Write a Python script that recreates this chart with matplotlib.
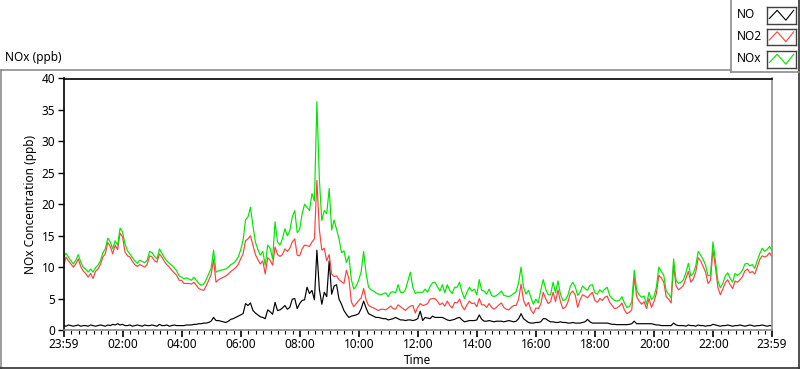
import numpy as np
import matplotlib
matplotlib.use("Agg")
import matplotlib.pyplot as plt
from matplotlib.lines import Line2D

plt.rcParams["font.family"] = ["Noto Sans", "DejaVu Sans"]
plt.rcParams["font.size"] = 8.5

W, H = 800, 369

# 5-minute readings from 23:59, one row per hour
no = [
    0.7, 0.6, 0.8, 0.7, 0.6, 0.7, 0.8, 0.6, 0.7, 0.7, 0.6, 0.8,
    0.7, 0.6, 0.7, 0.8, 0.7, 0.6, 0.8, 0.7, 0.9, 0.8, 1.0, 0.8,
    0.9, 0.7, 0.7, 0.8, 0.6, 0.7, 0.8, 0.7, 0.6, 0.8, 0.7, 0.7,
    0.8, 0.7, 0.6, 0.9, 0.7, 0.7, 0.8, 0.6, 0.7, 0.8, 0.7, 0.7,
    0.7, 0.7, 0.8, 0.8, 0.8, 0.9, 0.9, 1.0, 1.0, 1.1, 1.1, 1.2,
    1.4, 2.0, 1.5, 1.5, 1.4, 1.3, 1.2, 1.4, 1.7, 1.8, 2.0, 2.2,
    2.4, 2.6, 4.2, 3.9, 4.3, 3.1, 2.7, 2.4, 2.1, 2.0, 1.8, 3.2,
    2.9, 2.5, 4.4, 3.1, 3.2, 3.5, 3.9, 3.3, 3.6, 4.9, 5.0, 3.4,
    4.2, 4.7, 4.8, 6.8, 5.8, 6.3, 4.8, 12.7, 6.5, 4.1, 6.0, 5.3,
    11.0, 5.7, 7.0, 7.2, 4.9, 4.1, 3.1, 2.5, 2.0, 2.2, 2.3, 2.4,
    2.6, 3.4, 4.6, 3.5, 2.6, 2.4, 2.2, 2.0, 2.0, 1.9, 1.8, 1.8,
    1.6, 1.7, 1.8, 2.0, 1.8, 1.6, 1.6, 1.5, 1.6, 1.6, 1.5, 1.6,
    1.8, 3.0, 1.5, 2.0, 1.9, 1.8, 2.2, 2.0, 2.0, 2.0, 2.0, 1.8,
    1.6, 1.5, 1.6, 1.7, 1.9, 2.0, 1.6, 1.3, 1.4, 1.5, 1.5, 1.5,
    1.6, 2.4, 1.7, 1.4, 1.4, 1.5, 1.4, 1.3, 1.4, 1.4, 1.4, 1.3,
    1.4, 1.5, 1.4, 1.3, 1.4, 1.8, 2.6, 1.8, 1.5, 1.2, 1.1, 1.1,
    1.2, 1.2, 1.3, 1.8, 1.8, 1.5, 1.3, 1.3, 1.2, 1.2, 1.3, 1.2,
    1.2, 1.1, 1.1, 1.2, 1.1, 1.1, 1.1, 1.2, 1.3, 1.7, 1.3, 1.1,
    1.1, 1.1, 1.1, 1.1, 1.1, 1.1, 1.0, 0.9, 0.9, 0.85, 0.85, 0.85,
    0.85, 0.85, 0.9, 1.0, 1.4, 1.0, 1.0, 1.0, 1.0, 1.0, 1.0, 1.0,
    0.9, 0.8, 0.8, 0.7, 0.7, 0.7, 0.7, 0.7, 1.1, 0.8, 0.7, 0.7,
    0.7, 0.6, 0.8, 0.7, 0.7, 0.6, 0.8, 0.7, 0.7, 0.6, 0.7, 0.7,
    0.9, 0.8, 0.7, 0.6, 0.7, 0.7, 0.8, 0.7, 0.6, 0.7, 0.7, 0.8,
    0.7, 0.6, 0.7, 0.8, 0.7, 0.6, 0.7, 0.7, 0.8, 0.7, 0.6, 0.7,
    0.7,
]

no2 = [
    10.0, 11.6, 11.0, 10.5, 10.0, 10.5, 11.3, 10.1, 9.4, 9.0, 8.4, 9.0,
    8.2, 9.3, 9.7, 10.4, 11.6, 12.1, 13.9, 13.3, 12.1, 13.5, 12.8, 15.4,
    14.8, 12.4, 11.8, 11.6, 10.9, 10.4, 10.1, 10.4, 10.2, 10.0, 10.4, 11.8,
    11.6, 11.0, 10.8, 12.1, 11.6, 10.9, 10.4, 10.0, 9.5, 9.1, 8.7, 7.9,
    7.9, 7.4, 7.4, 7.4, 7.3, 7.6, 7.1, 6.6, 6.4, 6.3, 7.0, 7.9,
    8.8, 11.2, 7.6, 8.0, 8.2, 8.4, 8.6, 8.9, 9.3, 9.6, 9.9, 10.4,
    11.3, 12.1, 14.2, 14.5, 15.0, 13.5, 12.0, 11.2, 10.5, 11.0, 8.9, 11.5,
    11.1, 10.3, 13.2, 12.0, 11.7, 12.0, 12.9, 12.5, 13.0, 14.0, 14.5, 11.9,
    11.8, 12.9, 13.5, 13.4, 13.3, 14.0, 14.5, 23.8, 16.0, 12.7, 13.0, 11.0,
    12.0, 8.9, 8.5, 8.6, 8.0, 7.7, 7.4, 9.5, 8.2, 4.5, 3.7, 4.2,
    4.7, 5.1, 6.6, 4.8, 3.9, 3.7, 3.5, 3.3, 3.1, 3.3, 3.3, 3.2,
    3.5, 3.8, 3.4, 3.3, 4.0, 3.7, 3.4, 3.1, 3.5, 3.8, 3.9, 2.7,
    3.6, 4.2, 3.9, 4.0, 4.2, 4.9, 5.0, 5.0, 4.6, 4.0, 4.3, 3.8,
    4.6, 3.9, 3.5, 4.4, 4.3, 4.9, 3.8, 3.2, 4.0, 4.6, 4.2, 4.3,
    3.7, 5.0, 4.0, 4.0, 3.6, 4.2, 3.6, 3.3, 3.6, 4.0, 4.3, 3.6,
    3.3, 3.2, 3.6, 3.9, 3.9, 4.9, 7.3, 4.7, 3.8, 4.4, 3.2, 2.6,
    3.5, 3.4, 4.1, 6.0, 5.0, 4.2, 4.5, 6.0, 4.5, 6.4, 4.5, 3.4,
    3.6, 4.4, 5.8, 6.2, 5.6, 3.6, 4.8, 5.6, 5.4, 5.1, 5.6, 6.0,
    4.7, 4.4, 5.0, 4.7, 5.2, 5.4, 4.4, 3.9, 3.4, 3.5, 3.8, 4.3,
    3.2, 2.6, 2.8, 3.2, 8.4, 5.3, 4.6, 4.1, 4.5, 3.4, 5.0, 3.6,
    4.5, 5.8, 8.7, 8.3, 7.6, 5.3, 4.9, 4.3, 10.3, 7.0, 6.4, 6.7,
    7.1, 8.2, 9.3, 7.6, 8.1, 9.2, 11.5, 11.0, 10.1, 9.2, 7.4, 7.9,
    12.8, 10.0, 6.8, 5.6, 6.5, 7.5, 8.0, 7.2, 6.6, 7.8, 7.6, 8.0,
    8.5, 9.4, 9.7, 9.1, 9.3, 8.9, 10.0, 11.2, 11.8, 11.6, 11.8, 12.3,
    11.6,
]

nox = [
    11.5, 12.2, 11.6, 11.0, 10.5, 11.1, 12.0, 10.8, 10.0, 9.7, 9.2, 9.7,
    9.2, 9.9, 10.3, 11.0, 12.3, 12.9, 14.6, 14.0, 12.9, 14.2, 13.5, 16.2,
    15.6, 13.7, 12.6, 12.1, 11.5, 11.0, 10.6, 11.1, 10.9, 10.7, 11.1, 12.5,
    12.3, 11.7, 11.3, 12.9, 12.2, 11.5, 11.0, 10.6, 10.3, 9.9, 9.4, 8.6,
    8.4, 8.1, 8.3, 8.1, 7.9, 8.4, 7.9, 7.4, 7.1, 7.3, 8.0, 8.9,
    9.8, 12.7, 9.2, 9.4, 9.5, 9.6, 9.7, 10.0, 10.4, 10.6, 11.0, 11.6,
    12.7, 14.3, 17.5, 18.0, 19.5, 16.6, 14.0, 12.8, 11.9, 12.5, 10.3, 13.5,
    13.0, 11.3, 17.2, 14.0, 13.5, 14.5, 16.1, 15.0, 15.8, 18.0, 19.0, 15.5,
    16.0, 18.5, 20.0, 19.5, 19.0, 21.7, 20.5, 36.3, 24.0, 17.4, 19.0, 18.5,
    22.5, 15.9, 17.5, 16.0, 14.5, 12.3, 12.6, 10.7, 11.8, 8.0, 6.5, 7.0,
    7.9, 9.3, 12.5, 9.0, 6.8, 6.4, 6.2, 5.9, 5.7, 5.6, 5.8, 5.9,
    5.3, 6.0, 6.1, 5.9, 7.2, 6.0, 5.9, 6.4, 7.8, 9.2, 6.8, 5.8,
    6.0, 6.0, 6.0, 6.5, 6.0, 6.9, 7.5, 7.6, 6.9, 6.2, 7.2, 5.9,
    7.2, 6.3, 5.8, 6.8, 6.8, 7.6, 6.0, 5.0, 6.0, 6.8, 6.2, 6.5,
    5.6, 8.0, 6.3, 6.2, 5.7, 6.5, 5.5, 5.3, 5.5, 5.8, 6.2, 5.5,
    5.4, 5.3, 5.5, 5.8, 6.1, 7.5, 10.0, 6.8, 5.7, 6.3, 5.2, 4.1,
    4.9, 4.3, 6.3, 8.0, 6.5, 5.6, 5.6, 7.6, 5.9, 7.8, 5.7, 4.7,
    4.8, 5.5, 6.9, 7.6, 6.9, 5.5, 6.0, 7.0, 6.6, 6.3, 7.1, 7.2,
    5.9, 5.7, 6.4, 6.0, 6.5, 6.8, 5.5, 5.0, 4.7, 4.6, 4.7, 5.3,
    4.3, 3.6, 3.7, 4.5, 9.5, 6.3, 5.6, 5.2, 5.4, 4.1, 6.0, 4.8,
    5.3, 6.8, 10.0, 9.3, 8.7, 6.2, 5.7, 5.1, 11.3, 7.9, 7.4, 7.6,
    8.0, 9.1, 10.6, 8.6, 9.0, 10.2, 12.5, 11.9, 11.2, 10.3, 8.6, 8.7,
    14.0, 11.0, 7.8, 6.7, 7.4, 8.6, 9.1, 8.2, 7.6, 9.0, 8.7, 9.0,
    9.5, 10.5, 10.6, 10.2, 10.4, 9.8, 11.0, 12.1, 13.0, 12.5, 12.8, 13.3,
    12.6,
]

series_names = ["NO", "NO2", "NOx"]
series_colors = ["#000000", "#ff4040", "#00e600"]

tick_minutes = [0, 121, 241, 361, 481, 601, 721, 841, 961, 1081, 1201, 1321, 1440]
tick_labels = ["23:59", "02:00", "04:00", "06:00", "08:00", "10:00", "12:00",
               "14:00", "16:00", "18:00", "20:00", "22:00", "23:59"]


def fx(x):
    return x / W


def fy(y):
    return 1 - y / H


fig = plt.figure(figsize=(W / 100, H / 100), dpi=100)

# outer panel frame
frame_grey = "#8c8c8c"
fig.add_artist(Line2D([fx(0.5), fx(730)], [fy(69.5), fy(69.5)], transform=fig.transFigure, color=frame_grey, lw=1.2))
fig.add_artist(Line2D([fx(0.5), fx(0.5)], [fy(69.5), fy(368)], transform=fig.transFigure, color=frame_grey, lw=1.2))
fig.add_artist(Line2D([fx(0), fx(799.5)], [fy(368), fy(368)], transform=fig.transFigure, color="#303030", lw=1.2))
fig.add_artist(Line2D([fx(799.3), fx(799.3)], [fy(0), fy(368)], transform=fig.transFigure, color="#303030", lw=1.2))
fig.add_artist(Line2D([fx(730.5), fx(730.5)], [fy(0), fy(72)], transform=fig.transFigure, color=frame_grey, lw=1.2))
fig.add_artist(Line2D([fx(730.5), fx(799)], [fy(72), fy(72)], transform=fig.transFigure, color=frame_grey, lw=1.2))

fig.text(fx(5), fy(58), "NOx (ppb)", ha="left", va="center", fontsize=8.5)

# plot area
left, right, top, bottom = 63.5, 772, 78.5, 330
ax = fig.add_axes([fx(left), fy(bottom), fx(right - left), (bottom - top) / H])

for vals, name, col in zip([no, no2, nox], series_names, series_colors):
    t = np.arange(len(vals)) * 5
    ax.plot(t, vals, color=col, lw=0.85, label=name)

ax.set_xlim(0, 1440)
ax.set_ylim(0, 40)
ax.set_yticks(np.arange(0, 41, 5))
ax.set_xticks(tick_minutes)
ax.set_xticklabels(tick_labels)
ax.set_xticks(np.arange(16, 1440, 15), minor=True)
ax.tick_params(axis="y", which="major", length=4, width=1, pad=2, labelsize=8.5)
ax.tick_params(axis="x", which="major", length=5, width=1.2, pad=1, labelsize=8.5)
ax.tick_params(axis="x", which="minor", length=3, width=0.8)

ax.spines["top"].set_color("#000000")
ax.spines["left"].set_color("#000000")
ax.spines["bottom"].set_color("#8c8c8c")
ax.spines["right"].set_color("#8c8c8c")
for s in ax.spines.values():
    s.set_linewidth(1.2)

fig.text(fx(31), fy(204), "NOx Concentration (ppb)", rotation=90, ha="center", va="center", fontsize=8.5)
fig.text(fx(417), fy(361), "Time", ha="center", va="center", fontsize=8.5)

# legend in the top right box
box_tops = [7, 28.5, 51]
for name, col, bt in zip(series_names, series_colors, box_tops):
    fig.text(fx(737), fy(bt + 8), name, ha="left", va="center", fontsize=8.5)
    sw = fig.add_axes([fx(767), fy(bt + 16.5), fx(29), 16.5 / H])
    sw.plot([0.08, 0.35, 0.65, 0.92], [0.3, 0.8, 0.2, 0.8], color=col, lw=0.8)
    sw.set_xlim(0, 1)
    sw.set_ylim(0, 1)
    sw.set_xticks([])
    sw.set_yticks([])
    for s in sw.spines.values():
        s.set_color("#404040")
        s.set_linewidth(1.0)

fig.savefig("out.png", dpi=100)
